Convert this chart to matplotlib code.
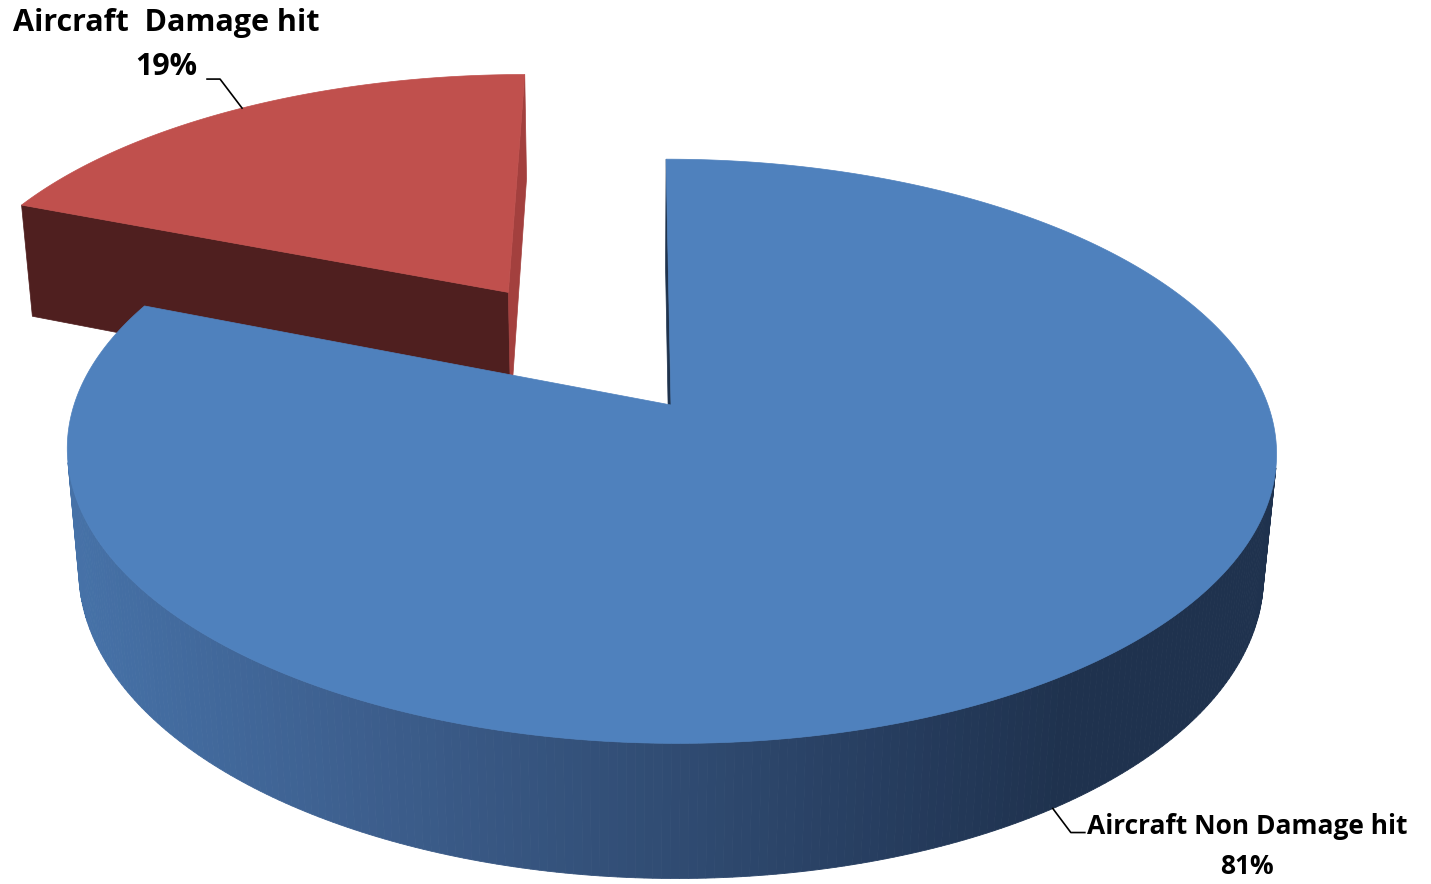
import numpy as np
import matplotlib.pyplot as plt
from matplotlib.patches import Polygon
from matplotlib.colors import to_rgb

# data
labels = ['Aircraft Non Damage hit', 'Aircraft  Damage hit']
values = [81, 19]
colors = ['#4F81BD', '#C0504D']
side_colors = ['#4672A8', '#8E3A38']
# colour of the two cut faces of each slice (start edge, end edge)
cut_colors = [('#1F334D', '#1F334D'), ('#4F1F1F', '#A3403E')]
explode = [0.0, 0.51]

# fake 3d view of the pie
elev = np.arcsin(0.477)
dist = 5.55
height = 0.235
cam_x = -0.06
c, s = np.cos(elev), np.sin(elev)
cam = np.array([cam_x, -dist * c, dist * s])
fwd = np.array([0.0, c, -s])
up = np.array([0.0, s, c])


def proj(x, y, z):
    x, y, z = np.broadcast_arrays(np.asarray(x, float), np.asarray(y, float), np.asarray(z, float))
    rx, ry, rz = x - cam[0], y - cam[1], z - cam[2]
    depth = ry * fwd[1] + rz * fwd[2]
    return rx / depth, (ry * up[1] + rz * up[2]) / depth


def visible(px, py, nx, ny):
    return nx * (cam[0] - px) + ny * (cam[1] - py) > 0


W, H = 1431, 884
fig = plt.figure(figsize=(W / 100, H / 100), dpi=100)
ax = fig.add_axes([0, 0, 1, 1])
ax.axis('off')

S = 597 * dist
u0, v0 = proj(0, 0, 0)
ax.set_xlim(u0 - 671 / S, u0 + (W - 671) / S)
ax.set_ylim(v0 - (H - 405) / S, v0 + 405 / S)

# side shading stops (left -> right on screen)
grad_t = [0.0, 0.24, 0.52, 0.7, 0.82, 1.0]
grad_c = ['#4672A8', '#3D5F8E', '#2F4A70', '#253B5C', '#1F324E', '#1F324E']
grad_rgb = np.array([to_rgb(g) for g in grad_c])


def side_color(u, i):
    if i == 1:
        return side_colors[1]
    t = np.clip((u - ax.get_xlim()[0] - 70 / S) / (1210 / S), 0, 1)
    return tuple(np.interp(t, grad_t, grad_rgb[:, k]) for k in range(3))


total = float(sum(values))
bounds = 90 - 360 * np.concatenate([[0], np.cumsum(values)]) / total
anchors = []
order = np.argsort([-np.sin(np.radians((bounds[i] + bounds[i + 1]) / 2)) for i in range(len(values))])
for i in order:
    a0, a1 = bounds[i], bounds[i + 1]
    mid = np.radians((a0 + a1) / 2)
    ox, oy = explode[i] * np.cos(mid), explode[i] * np.sin(mid)
    th = np.radians(np.linspace(a0, a1, 400))
    ax_, ay_ = ox + np.cos(th), oy + np.sin(th)

    # radial cut faces
    for j, (a, sgn) in enumerate(((a0, 1), (a1, -1))):
        r = np.radians(a)
        nx, ny = -sgn * np.sin(r), sgn * np.cos(r)
        ex, ey = ox + np.cos(r), oy + np.sin(r)
        if visible((ox + ex) / 2, (oy + ey) / 2, nx, ny):
            pu, pv = proj([ox, ex, ex, ox], [oy, ey, ey, oy], [0, 0, -height, -height])
            col = cut_colors[i][j]
            ax.add_patch(Polygon(np.c_[pu, pv], closed=True, fc=col, ec=col, lw=0.5))

    # outer side
    for k in range(len(th) - 1):
        tm = (th[k] + th[k + 1]) / 2
        if not visible(ox + np.cos(tm), oy + np.sin(tm), np.cos(tm), np.sin(tm)):
            continue
        xs = [ax_[k], ax_[k + 1], ax_[k + 1], ax_[k]]
        ys = [ay_[k], ay_[k + 1], ay_[k + 1], ay_[k]]
        pu, pv = proj(xs, ys, [0, 0, -height, -height])
        col = side_color(pu.mean(), i)
        ax.add_patch(Polygon(np.c_[pu, pv], closed=True, fc=col, ec=col, lw=0.6))

    # top
    pu, pv = proj(np.r_[ox, ax_], np.r_[oy, ay_], 0)
    ax.add_patch(Polygon(np.c_[pu, pv], closed=True, fc=colors[i], ec=colors[i], lw=0.5))

    if i == 1:
        anchors.append((i, proj(ox + np.cos(mid), oy + np.sin(mid), 0)))
    else:
        anchors.append((i, proj(np.cos(mid), np.sin(mid), -height)))

# data labels with leader lines (offsets in pixels)
lab_off = {1: ((-22, -29), (-35, -29), (-76, -63), 22, 1.62),
           0: ((18, 24), (32, 24), (194, 38), 19, 1.58)}
for i, (au, av) in anchors:
    elbow, end, txt, fs, lsp = lab_off[i]
    px = lambda d: au + d[0] / S
    py = lambda d: av - d[1] / S
    ax.plot([au, px(elbow), px(end)], [av, py(elbow), py(end)], color='black', lw=1.2)
    pct = int(round(100 * values[i] / total))
    ax.text(px(txt), py(txt), '%s\n%d%%' % (labels[i], pct), ha='center', va='center',
            fontsize=fs, fontweight='bold', family='Open Sans', linespacing=lsp)

fig.savefig('out.png', dpi=100)
